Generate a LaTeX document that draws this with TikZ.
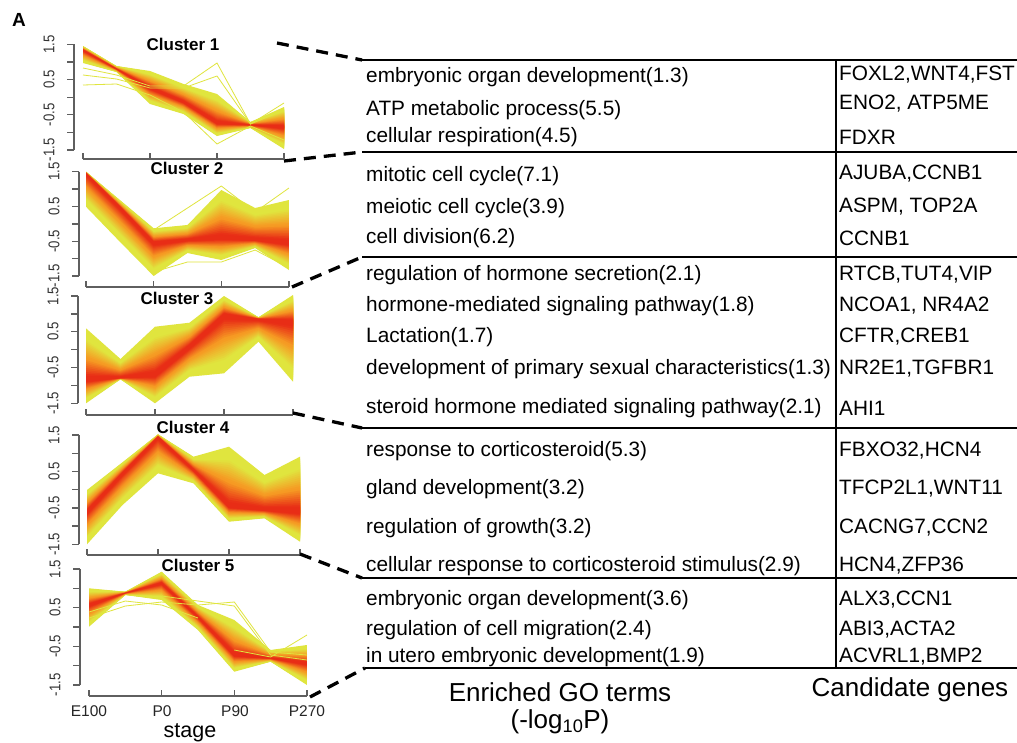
\documentclass[tikz,border=0pt]{standalone}
\usepackage{fontspec}
\setmainfont{Liberation Sans}
\usepackage{graphicx}
\usetikzlibrary{calc}
\definecolor{byellow}{RGB}{224,229,62}
\definecolor{borange}{RGB}{246,155,35}
\definecolor{bred}{RGB}{232,45,22}
\definecolor{axgray}{RGB}{95,95,95}

% #1 x0, #2 dx, #3 centre, #4 spread up, #5 spread down, #6 extra lines
\newcommand\bundle[6]{%
\begin{scope}[shift={(#1,0)}, x=#2pt]
 \def\cc{#3}\def\uu{#4}\def\dd{#5}%
 \foreach \k in {26,...,1}{
   \pgfmathsetmacro\t{\k/26}
   \pgfmathsetmacro\pa{min(100,max(0,(\t-0.45)/0.35*100))}
   \pgfmathsetmacro\pb{min(100,max(0,(\t-0.10)/0.33*100))}
   \fill[byellow!\pa!borange!\pb!bred] (0,{\cc[0]-\t*\uu[0]})
     foreach \i in {1,...,6}{ -- (\i,{\cc[\i]-\t*\uu[\i]}) }
     foreach \i in {6,5,...,0}{ -- (\i,{\cc[\i]+\t*\dd[\i]}) } -- cycle;
 }
 \begin{scope}[draw=byellow, line width=0.8pt]
 #6
 \end{scope}
\end{scope}}

\newcommand\yax[4]{% prefix, x, ytop, ybot
 \coordinate (#1yt) at (#2,#3); \coordinate (#1yb) at (#2,#4);
 \draw[axis] (#1yt) -- (#1yb);
 \foreach \j in {0,...,6}{\draw[axis] ($(#1yt)!\j/6!(#1yb)$) -- ++(-7,0);}
 \foreach \j/\lab in {0/1.5,2/0.5,4/-0.5,6/-1.5}{%
   \node[ylab] (#1yl\j) at ($(#1yt)!\j/6!(#1yb)+(-25,0)$) {\rotatebox{90}{\scalebox{0.85}[1]{\lab}}};}
}
\newcommand\xax[4]{% prefix, x0, x1, y
 \coordinate (#1xl) at (#2,#4); \coordinate (#1xr) at (#3,#4);
 \draw[axis] (#1xl) -- (#1xr);
 \foreach \j in {0,...,3}{\draw[axis] ($(#1xl)!\j/3!(#1xr)$) -- ++(0,-6);}
}

\begin{document}
\begin{tikzpicture}[x=1pt,y=-1pt,
  axis/.style={draw=axgray, line width=1.3pt},
  ylab/.style={font=\fontsize{15.5}{15.5}\selectfont, text=black!80, inner sep=0pt},
  xlab/.style={font=\fontsize{15.5}{16}\selectfont, text=black!85, inner sep=0pt},
  ctitle/.style={font=\bfseries\fontsize{17}{17}\selectfont, inner sep=0pt},
  conn/.style={line width=3.3pt, dash pattern=on 12pt off 8pt},
  tline/.style={line width=1.7pt},
  go/.style={anchor=west, font=\fontsize{20.8}{22}\selectfont, inner sep=0pt},
  foot/.style={font=\fontsize{26}{30}\selectfont, inner sep=0pt}]
\useasboundingbox[fill=white] (0,0) rectangle (1017,742);

\node[font=\bfseries\fontsize{19}{19}\selectfont, inner sep=0pt] (lblA) at (19,20) {A};

% ---------------- Cluster 1
\bundle{83}{33.5}{{50,69,88,102,123,125,127}}{{4,3,17,18,29,3,20}}{{13,3,16,12,13,3,22}}{%
 \draw (0,68)--(1,75)--(2,86)--(3,86)--(4,63)--(5,124)--(6,110);
 \draw (0,75)--(1,79)--(2,88)--(3,88)--(4,76)--(5,124)--(6,103);
 \draw (0,85)--(1,84)--(2,95)--(3,112)--(4,144)--(5,126)--(6,140);}
\yax{a}{74}{44.3}{150}
\xax{a}{83}{284}{159}
\node[ctitle] (t1) at (183,44) {Cluster 1};

% ---------------- Cluster 2
\bundle{86}{33.83}{{173,207,242.7,240,238,240,243}}{{1.3,7,14.4,15,48,32,43}}{{33.7,34.7,33.3,13,22,8,27}}{%
 \draw (2,230)--(3,208)--(4,186)--(5,212)--(6,188);
 \draw (2,272)--(3,262)--(4,262)--(5,250)--(6,268);}
\yax{b}{79}{171.7}{276}
\xax{b}{86}{289}{287}
\node[ctitle] (t2) at (187,168) {Cluster 2};

% ---------------- Cluster 3
\bundle{86}{34.5}{{380,378,375,346.7,315,319,321.7}}{{51.7,19,48.3,24,19,1.7,26.7}}{{23.3,1.3,28.3,30,58.3,22.7,60}}{}
\yax{c}{78}{296}{403.3}
\xax{c}{86}{293}{415}
\node[ctitle] (t3) at (177,298) {Cluster 3};

% ---------------- Cluster 4
\bundle{87}{35.5}{{511.7,473.3,436.7,470,506.7,510,511.7}}{{21.7,11,2.4,13.3,60,35,55}}{{32.6,31.7,36.6,13.3,15,8.3,30}}{}
\yax{d}{79}{435}{544.3}
\xax{d}{87}{300}{555}
\node[ctitle] (t4) at (193,427) {Cluster 4};

% ---------------- Cluster 5
\bundle{89}{36.33}{{605,593,583.3,617,655,658.3,663.3}}{{16.7,1.3,11.6,12,35,8.3,18.3}}{{21.7,2,16.7,13,16.7,3.4,21.7}}{%
 \draw (0,612)--(1,601)--(2,605)--(3,618);
 \draw (0,618)--(1,606)--(2,602)--(3,605)--(4,602)--(5,652)--(6,655);
 \draw (2,596)--(3,601)--(4,606)--(5,655)--(6,660);
 \draw (4,650)--(5,657)--(6,635);}
\yax{e}{80}{569}{685}
\xax{e}{89}{307}{696}
\node[ctitle] (t5) at (198,565) {Cluster 5};

\node[xlab] (s1) at (89,711) {E100};
\node[xlab] (s2) at (162,711) {P0};
\node[xlab] (s3) at (235,711) {P90};
\node[xlab] (s4) at (307,711) {P270};
\node[font=\fontsize{21.5}{24}\selectfont, inner sep=0pt] (stage) at (190,733) {stage};

% ---------------- table lines
\foreach \n/\y/\xl in {0/60/362,1/152/362,2/257/362,3/428/362,4/578/362,5/668/365}{
  \coordinate (L\n l) at (\xl,\y); \coordinate (L\n r) at (1017,\y);
  \draw[tline] (L\n l) -- (L\n r);}
\coordinate (vt) at (836,60); \coordinate (vb) at (836,668);
\draw[line width=1.5pt] (vt) -- (vb);

% ---------------- connectors
\coordinate (k1a) at (277,43);
\coordinate (k1b) at (284,161);
\coordinate (k2) at (292,287);
\coordinate (k3) at (293,413);
\coordinate (k4) at (300,554);
\coordinate (k5) at (310,697);
\draw[conn] (k1a) -- (L0l);
\draw[conn] (k1b) -- (L1l);
\draw[conn] (k2) -- (L2l);
\draw[conn] (k3) -- (L3l);
\draw[conn] (k4) -- (L4l);
\draw[conn] (k5) -- (L5l);

% ---------------- GO terms
\node[go] (g1a) at (366,77) {embryonic organ development(1.3)};
\node[go] (g1b) at (366,110) {ATP metabolic process(5.5)};
\node[go] (g1c) at (366,137) {cellular respiration(4.5)};
\node[go] (g2a) at (366,176) {mitotic cell cycle(7.1)};
\node[go] (g2b) at (366,208) {meiotic cell cycle(3.9)};
\node[go] (g2c) at (366,238) {cell division(6.2)};
\node[go] (g3a) at (366,275) {regulation of hormone secretion(2.1)};
\node[go] (g3b) at (366,306) {hormone-mediated signaling pathway(1.8)};
\node[go] (g3c) at (366,337) {Lactation(1.7)};
\node[go] (g3d) at (366,369) {development of primary sexual characteristics(1.3)};
\node[go] (g3e) at (366,408) {steroid hormone mediated signaling pathway(2.1)};
\node[go] (g4a) at (366,451) {response to corticosteroid(5.3)};
\node[go] (g4b) at (366,489) {gland development(3.2)};
\node[go] (g4c) at (366,528) {regulation of growth(3.2)};
\node[go] (g4d) at (366,566) {cellular response to corticosteroid stimulus(2.9)};
\node[go] (g5a) at (366,600) {embryonic organ development(3.6)};
\node[go] (g5b) at (366,630) {regulation of cell migration(2.4)};
\node[go] (g5c) at (366,657) {in utero embryonic development(1.9)};

% ---------------- genes
\node[go] (n1a) at (839,75) {FOXL2,WNT4,FST};
\node[go] (n1b) at (839,104) {ENO2, ATP5ME};
\node[go] (n1c) at (839,137) {FDXR};
\node[go] (n2a) at (839,174) {AJUBA,CCNB1};
\node[go] (n2b) at (839,207) {ASPM, TOP2A};
\node[go] (n2c) at (839,238) {CCNB1};
\node[go] (n3a) at (839,275) {RTCB,TUT4,VIP};
\node[go] (n3b) at (839,306) {NCOA1, NR4A2};
\node[go] (n3c) at (839,337) {CFTR,CREB1};
\node[go] (n3d) at (839,369) {NR2E1,TGFBR1};
\node[go] (n3e) at (839,408) {AHI1};
\node[go] (n4a) at (839,451) {FBXO32,HCN4};
\node[go] (n4b) at (839,489) {TFCP2L1,WNT11};
\node[go] (n4c) at (839,528) {CACNG7,CCN2};
\node[go] (n4d) at (839,566) {HCN4,ZFP36};
\node[go] (n5a) at (839,600) {ALX3,CCN1};
\node[go] (n5b) at (839,630) {ABI3,ACTA2};
\node[go] (n5c) at (839,657) {ACVRL1,BMP2};

\node[foot] (f1) at (560,692) {Enriched GO terms};
\node[foot] (f2) at (560,722) {(-log\textsubscript{10}P)};
\node[foot] (f3) at (910,690) {Candidate genes};
\end{tikzpicture}
\end{document}
